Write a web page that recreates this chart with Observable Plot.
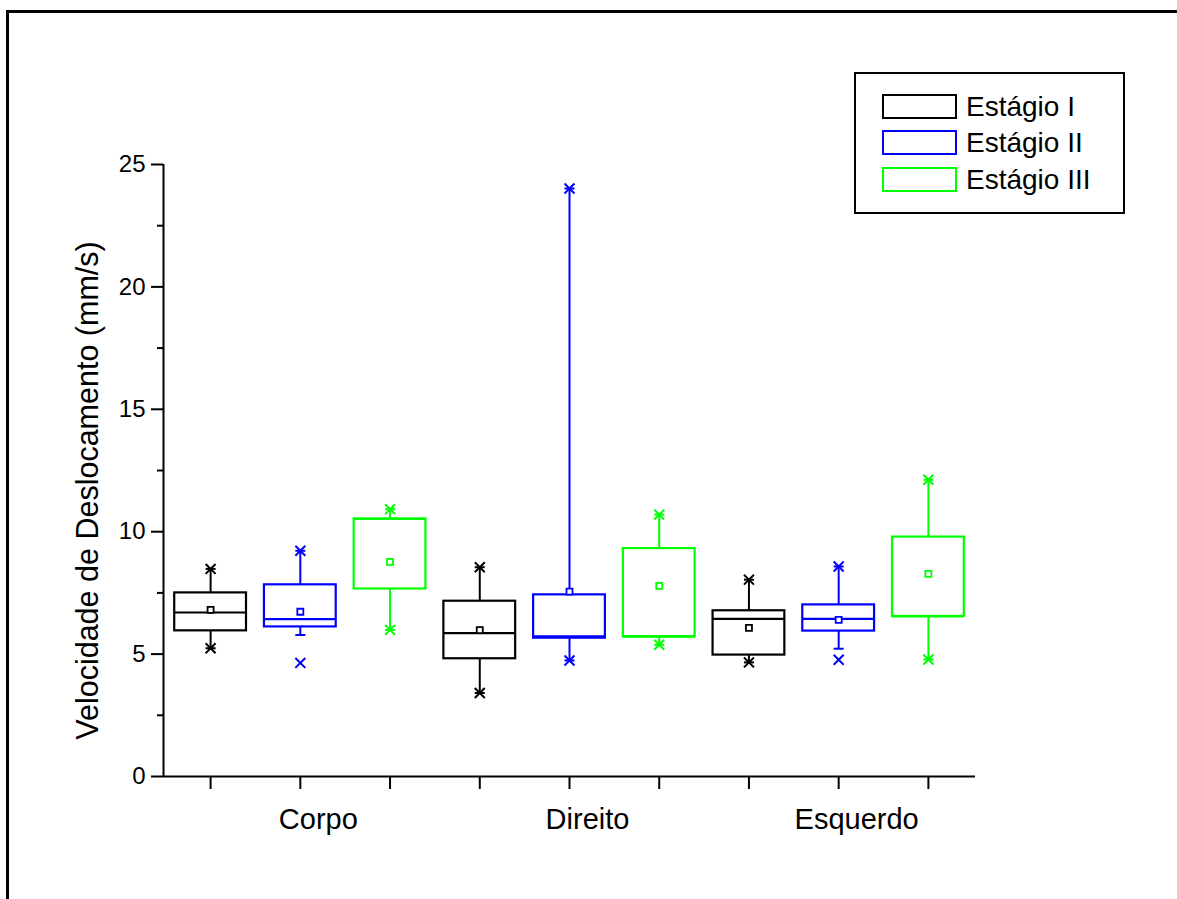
<!DOCTYPE html>
<html>
<head>
<meta charset="utf-8">
<script src="https://cdn.jsdelivr.net/npm/d3@7"></script>
<script src="https://cdn.jsdelivr.net/npm/@observablehq/plot@0.6"></script>
<style>
  html, body { margin: 0; padding: 0; background: #fff; overflow: hidden; }
  #wrap { position: relative; width: 1177px; height: 899px; overflow: hidden; font-family: "Liberation Sans", Arial, sans-serif; }
  #outer { position: absolute; left: 6px; top: 10px; width: 1400px; height: 1200px; border: 3px solid #000; box-sizing: border-box; pointer-events: none; }
  #chart { position: absolute; left: 0; top: 0; }
  #legend { position: absolute; left: 854px; top: 72px; width: 271px; height: 142px; border: 2px solid #000; box-sizing: border-box; background: #fff; }
  .row { position: absolute; left: 26px; height: 25px; display: flex; align-items: center; }
  .sw { width: 75px; height: 25px; box-sizing: border-box; border: 2px solid #000; }
  .lab { margin-left: 9px; font-size: 28px; color: #000; line-height: 25px; }
</style>
</head>
<body>
<div id="wrap">
  <div id="chart"></div>
  <div id="outer"></div>
  <div id="legend"></div>
</div>
<script>
// ---- data ----
const categories = ["Corpo", "Direito", "Esquerdo"];
const stages = ["Estágio I", "Estágio II", "Estágio III"];
const stageColors = ["#000000", "#0000ff", "#00ff00"];

// order: Corpo I, II, III, Direito I, II, III, Esquerdo I, II, III
const q1       = [5.95, 6.11, 7.66, 4.81, 5.65, 5.71, 4.96, 5.94, 6.54];
const median   = [6.70, 6.43, 10.52, 5.86, 5.72, 5.71, 6.44, 6.44, 6.54];
const q3       = [7.50, 7.83, 10.52, 7.16, 7.42, 9.31, 6.77, 7.01, 9.78];
const mean     = [6.81, 6.73, 8.77, 5.98, 7.55, 7.79, 6.07, 6.40, 8.28];
const minimum  = [5.24, 5.78, 5.99, 3.41, 4.74, 5.38, 4.66, 5.22, 4.78];
const maximum  = [8.48, 9.22, 10.92, 8.55, 24.02, 10.70, 8.04, 8.58, 12.12];
const pct1     = [5.24, 4.64, 5.99, 3.41, 4.74, 5.38, 4.66, 4.77, 4.78];
const pct99    = [8.48, 9.22, 10.92, 8.55, 24.02, 10.70, 8.04, 8.58, 12.12];

const yTicks = [0, 5, 10, 15, 20, 25];
const yMinorTicks = [2.5, 7.5, 12.5, 17.5, 22.5];
const yLabel = "Velocidade de Deslocamento (mm/s)";

// ---- table ----
const rows = [];
categories.forEach((c, ci) => stages.forEach((s, si) => {
  const i = ci * stages.length + si;
  rows.push({
    category: c, stage: s, color: stageColors[si], pos: i + 1,
    q1: q1[i], median: median[i], q3: q3[i], mean: mean[i],
    min: minimum[i], max: maximum[i], p1: pct1[i], p99: pct99[i]
  });
}));
const half = 0.4;
const catPos = categories.map((c, ci) => ci * stages.length + 2);
const allPos = rows.map(d => d.pos);
const xDomain = [0.475, rows.length + 0.525];

const dashSymbol = {
  draw(context, size) {
    const r = Math.sqrt(size / Math.PI);
    context.moveTo(-r, 0);
    context.lineTo(r, 0);
  }
};

const chart = Plot.plot({
  width: 1177,
  height: 899,
  marginLeft: 163,
  marginRight: 202,
  marginTop: 164,
  marginBottom: 123,
  style: { fontFamily: "Liberation Sans, Arial, sans-serif", background: "transparent", overflow: "visible" },
  x: { type: "linear", domain: xDomain },
  y: { domain: [0, 25] },
  marks: [
    // axes lines
    Plot.ruleX([xDomain[0]], { y1: 0, y2: 25, stroke: "#000", strokeWidth: 2 }),
    Plot.ruleY([0], { stroke: "#000", strokeWidth: 2 }),
    Plot.axisY({ ticks: yTicks, tickSize: 12, tickPadding: 6, fontSize: 24, strokeWidth: 2, label: null }),
    Plot.axisY({ ticks: yMinorTicks, tickSize: 6, tickFormat: () => "", strokeWidth: 2, label: null }),
    Plot.axisX({ ticks: allPos, tickSize: 13, tickFormat: () => "", strokeWidth: 2, label: null }),
    Plot.axisX({ ticks: catPos, tickSize: 0, tickPadding: 32, fontSize: 29, dx: 18,
      tickFormat: (v) => categories[catPos.indexOf(v)], label: null }),
    Plot.text([yLabel], { frameAnchor: "left", rotate: -90, dx: -75, dy: 20, fontSize: 30.5, fill: "#000", textAnchor: "middle", lineAnchor: "middle" }),
    // whiskers
    Plot.ruleX(rows, { x: "pos", y1: "q3", y2: "max", stroke: "color", strokeWidth: 2 }),
    Plot.ruleX(rows, { x: "pos", y1: "q1", y2: "min", stroke: "color", strokeWidth: 2 }),
    // boxes
    Plot.rect(rows, { x1: d => d.pos - half, x2: d => d.pos + half, y1: "q1", y2: "q3", fill: "white", stroke: "color", strokeWidth: 2.2 }),
    // median
    Plot.ruleY(rows, { y: "median", x1: d => d.pos - half, x2: d => d.pos + half, stroke: "color", strokeWidth: 2.2 }),
    // mean
    Plot.dot(rows, { x: "pos", y: "mean", symbol: "square", r: 3.4, stroke: "color", fill: "white", strokeWidth: 1.8 }),
    // min / max dashes
    Plot.dot(rows, { x: "pos", y: "min", symbol: dashSymbol, r: 5, stroke: "color", strokeWidth: 2 }),
    Plot.dot(rows, { x: "pos", y: "max", symbol: dashSymbol, r: 5, stroke: "color", strokeWidth: 2 }),
    // 1% / 99% crosses
    Plot.dot(rows, { x: "pos", y: "p1", symbol: "times", r: 4.6, stroke: "color", strokeWidth: 2 }),
    Plot.dot(rows, { x: "pos", y: "p99", symbol: "times", r: 4.6, stroke: "color", strokeWidth: 2 })
  ]
});
document.getElementById("chart").appendChild(chart);

// legend
const legend = document.getElementById("legend");
stages.forEach((s, i) => {
  const row = document.createElement("div");
  row.className = "row";
  row.style.top = (20 + i * 36.3) + "px";
  const sw = document.createElement("div");
  sw.className = "sw";
  sw.style.borderColor = stageColors[i];
  const lab = document.createElement("span");
  lab.className = "lab";
  lab.textContent = s;
  row.appendChild(sw);
  row.appendChild(lab);
  legend.appendChild(row);
});
</script>
</body>
</html>
